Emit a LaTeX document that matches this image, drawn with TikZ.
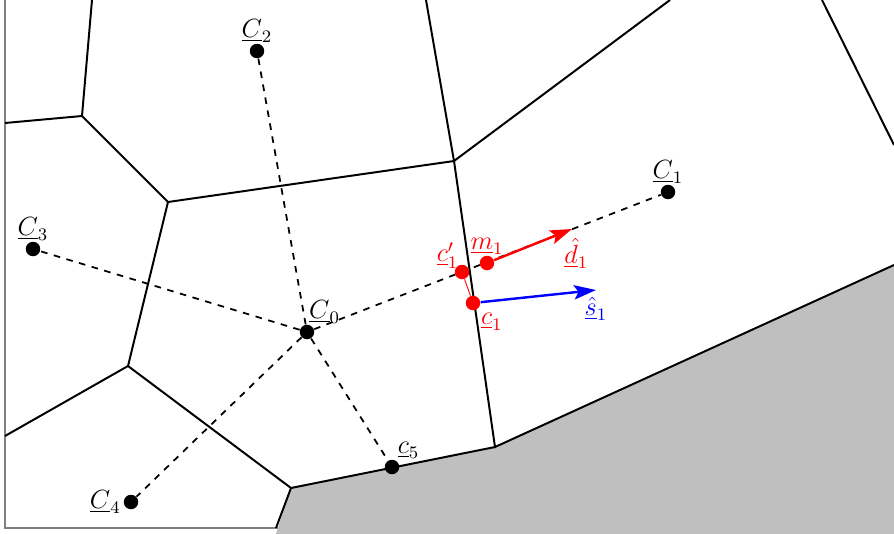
\documentclass[tikz,border=0pt]{standalone}
\usepackage{tikz}
\usetikzlibrary{arrows.meta,positioning}

\begin{document}
\begin{tikzpicture}[
  x=0.016cm,y=-0.016cm,
  wall/.style={draw=black,line width=0.9pt},
  link/.style={draw=black,dashed,line width=0.8pt},
  site/.style={circle,fill=#1,inner sep=0pt,minimum size=6.6pt},
  site/.default={black},
  vec/.style={-{Stealth[length=10pt,width=6.5pt,inset=2pt]},line width=1.1pt,draw=#1},
  tag/.style={inner sep=1pt,font=\large},
]
  \useasboundingbox (0,0) rectangle (894,533);
  \clip (0,0) rectangle (894,533);
  \draw[gray,line width=0.6pt] (5,-10) -- (5,528) -- (900,528);
  % obstacle
  \fill[gray!50] (274,540) -- (291,488) -- (495,447) -- (900,262) -- (900,540) -- cycle;
  % cell vertices
  \coordinate (vA) at (82,116);
  \coordinate (vB) at (168,202);
  \coordinate (vD) at (454,161);
  \coordinate (vE) at (128,366);
  \coordinate (vF) at (495,447);
  \coordinate (vG) at (291,488);
  % cell walls
  \draw[wall] (92,0) -- (vA) -- (vB) -- (vD) -- (426,0);
  \draw[wall] (5,123) -- (vA);
  \draw[wall] (vD) -- (670,0);
  \draw[wall] (vD) -- (vF) -- (894,265);
  \draw[wall] (vB) -- (vE) -- (5,436);
  \draw[wall] (vE) -- (vG) -- (vF);
  \draw[wall] (vG) -- (276,528);
  \draw[wall] (822,0) -- (894,145);
  % sites
  \node[site] (C0) at (307,332) {};
  \node[site] (C1) at (668,192) {};
  \node[site] (C2) at (257,51) {};
  \node[site] (C3) at (33,249) {};
  \node[site] (C4) at (131,502) {};
  \node[site] (c5) at (392,467) {};
  \draw[link] (C0) -- (C1);
  \draw[link] (C0) -- (C2);
  \draw[link] (C0) -- (C3);
  \draw[link] (C0) -- (C4);
  \draw[link] (C0) -- (c5);
  % contact point
  \node[site=red] (c1) at (473,303) {};
  \node[site=red] (c1p) at (462,272) {};
  \node[site=red] (m1) at (487,263) {};
  \coordinate (d1) at (572,229);
  \coordinate (s1) at (596,290);
  \draw[red,line width=0.4pt] (c1) -- (c1p);
  \draw[vec=red] (m1) -- (d1);
  \draw[vec=blue] (c1) -- (s1);
  % labels
  \node[tag,above=-1pt of C0,xshift=8pt] (lC0) {$\underline{C}_0$};
  \node[tag,above=-1pt of C1] (lC1) {$\underline{C}_1$};
  \node[tag,above=-1pt of C2] (lC2) {$\underline{C}_2$};
  \node[tag,above=-1pt of C3] (lC3) {$\underline{C}_3$};
  \node[tag,left=0pt of C4] (lC4) {$\underline{C}_4$};
  \node[tag,above right=0pt and -1pt of c5] (lc5) {$\underline{c}_5$};
  \node[tag,red,below right=1pt and 0pt of c1] (lc1) {$\underline{c}_1$};
  \node[tag,red,above left=-2pt and -2pt of c1p] (lc1p) {$\underline{c}_1'$};
  \node[tag,red,above=-1pt of m1] (lm1) {$\underline{m}_1$};
  \node[tag,red,below=3pt of d1,xshift=2pt] (ld1) {$\underline{\hat{d}}_1$};
  \node[tag,blue,below=2pt of s1,xshift=0pt] (ls1) {$\underline{\hat{s}}_1$};
\end{tikzpicture}
\end{document}
